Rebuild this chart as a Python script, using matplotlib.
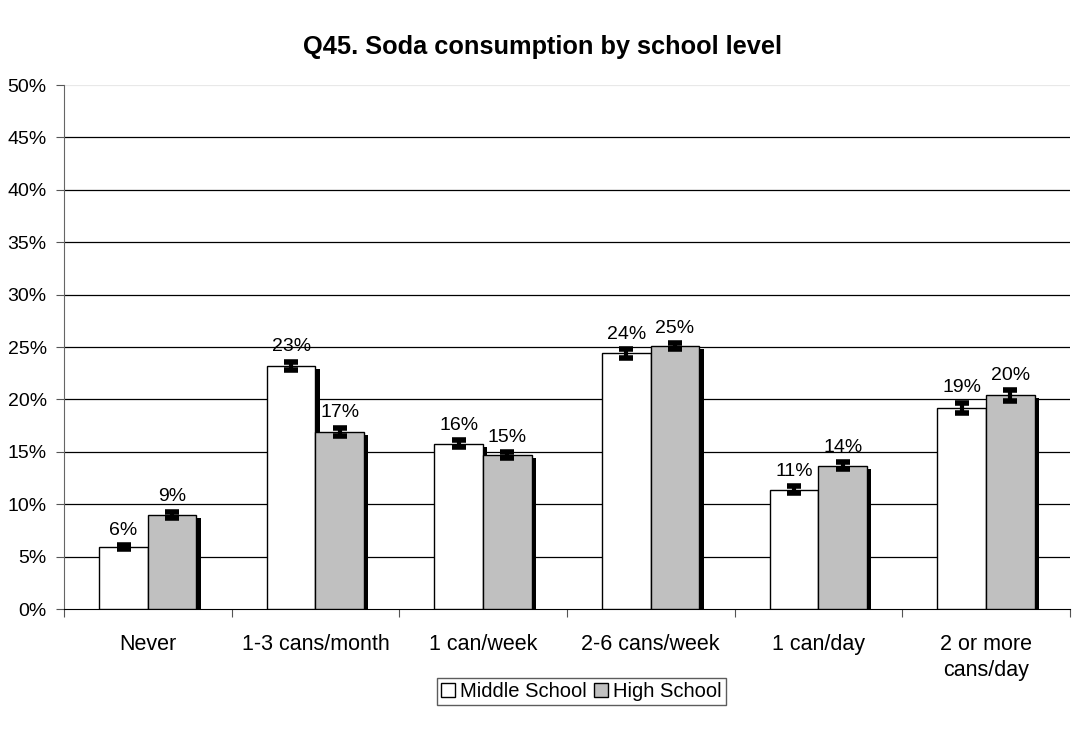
import numpy as np
import matplotlib.pyplot as plt
from matplotlib.patches import Patch

plt.rcParams['font.family'] = ['Liberation Sans', 'DejaVu Sans']

categories = ['Never', '1-3 cans/month', '1 can/week', '2-6 cans/week', '1 can/day', '2 or more\ncans/day']
middle = [5.9, 23.2, 15.8, 24.4, 11.4, 19.2]
high = [9.0, 16.9, 14.7, 25.1, 13.7, 20.4]
middle_err = [0.2, 0.4, 0.3, 0.4, 0.3, 0.5]
high_err = [0.3, 0.4, 0.3, 0.3, 0.3, 0.5]
middle_lbl = ['6%', '23%', '16%', '24%', '11%', '19%']
high_lbl = ['9%', '17%', '15%', '25%', '14%', '20%']

fig = plt.figure(figsize=(10.85, 7.33), dpi=100)
ax = fig.add_axes([0.059, 0.169, 0.927, 0.715])

x = np.arange(len(categories))
w = 0.29
sh = 0.026  # shadow offset

# shadows
ax.bar(x - w/2 + sh, np.array(middle) - 0.3, w, bottom=0, color='black', zorder=2)
ax.bar(x + w/2 + sh, np.array(high) - 0.3, w, bottom=0, color='black', zorder=2)

ax.bar(x - w/2, middle, w, color='white', edgecolor='black', linewidth=1, zorder=3)
ax.bar(x + w/2, high, w, color='#c0c0c0', edgecolor='black', linewidth=1, zorder=3)

ax.errorbar(x - w/2, middle, yerr=middle_err, fmt='none', ecolor='black',
            elinewidth=3, capsize=5, capthick=4, zorder=4)
ax.errorbar(x + w/2, high, yerr=high_err, fmt='none', ecolor='black',
            elinewidth=3, capsize=5, capthick=4, zorder=4)

for i in range(len(categories)):
    ax.text(x[i] - w/2, middle[i] + middle_err[i] + 0.6, middle_lbl[i],
            ha='center', va='bottom', fontsize=14)
    ax.text(x[i] + w/2, high[i] + high_err[i] + 0.6, high_lbl[i],
            ha='center', va='bottom', fontsize=14)

ax.set_xlim(-0.5, len(categories) - 0.5)
ax.set_ylim(0, 50)
ax.set_yticks(np.arange(0, 51, 5))
ax.set_yticklabels([f'{v}%' for v in range(0, 51, 5)], fontsize=14)
for v in range(5, 50, 5):
    ax.axhline(v, color='black', lw=0.9, zorder=1)
ax.axhline(50, color='#e8e8e8', lw=0.9, zorder=1)

ax.set_xticks(np.arange(-0.5, len(categories), 1))
ax.set_xticklabels([])
ax.set_xticks(x, minor=True)
ax.set_xticklabels(categories, minor=True, fontsize=15.5, linespacing=1.3)
ax.tick_params(axis='x', which='minor', length=0, pad=18)
ax.tick_params(axis='x', which='major', length=6, color='#555555', direction='out')
ax.tick_params(axis='y', length=6, color='#555555', direction='out', labelsize=14, pad=6.5)

for s in ['top', 'right']:
    ax.spines[s].set_visible(False)
ax.spines['left'].set_color('#666666')
ax.spines['bottom'].set_color('black')

fig.suptitle('Q45. Soda consumption by school level', fontsize=18.3, fontweight='bold',
             x=0.5, y=0.936, va='center')

handles = [Patch(facecolor='white', edgecolor='black', label='Middle School'),
           Patch(facecolor='#c0c0c0', edgecolor='black', label='High School')]
fig.legend(handles=handles, loc='center', bbox_to_anchor=(0.536, 0.057), ncol=2,
           fontsize=14.5, frameon=True, fancybox=False, edgecolor='#333333',
           handlelength=0.7, handleheight=0.7, handletextpad=0.25, columnspacing=0.35,
           borderpad=0.2)

fig.savefig('out.png', dpi=100)
